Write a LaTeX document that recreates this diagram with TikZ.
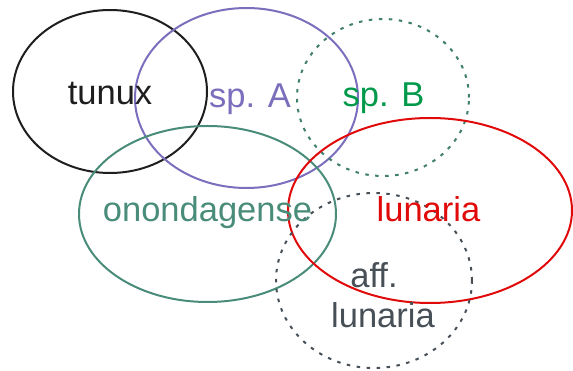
\documentclass[tikz,border=0pt]{standalone}
\usepackage{fontspec}
\setmainfont{Liberation Sans}
\usetikzlibrary{shapes.geometric}
\definecolor{cTunux}{HTML}{1E1E1E}
\definecolor{cSpA}{HTML}{7A6EBD}
\definecolor{cSpBline}{HTML}{3F7F6C}
\definecolor{cSpBtext}{HTML}{00994A}
\definecolor{cOnon}{HTML}{4A8C7A}
\definecolor{cLun}{HTML}{E10A0A}
\definecolor{cAff}{HTML}{474F57}
\tikzset{
  set/.style={ellipse, draw, line width=2pt, inner sep=0pt},
  dotset/.style={set, line width=2pt, dash pattern=on 3.5pt off 6.5pt},
  lbl/.style={font=\fontsize{34.5}{38}\selectfont, inner sep=0pt, anchor=base}
}
\begin{document}
\begin{tikzpicture}[x=1pt, y=-1pt]
\useasboundingbox (0,0) rectangle (573,371);
% species sets
\node[set, cTunux, minimum width=194pt, minimum height=163pt] (tunux) at (110,91.5) {};
\node[set, cSpA, minimum width=223pt, minimum height=180pt] (spA) at (246.5,98) {};
\node[dotset, cSpBline, minimum width=172pt, minimum height=157pt] (spB) at (383,97.5) {};
\node[set, cOnon, minimum width=257pt, minimum height=176pt] (onon) at (207.5,214) {};
\node[set, cLun, minimum width=284pt, minimum height=185pt] (lun) at (430,210.5) {};
\node[dotset, cAff, minimum width=196pt, minimum height=175pt] (aff) at (374,280.5) {};
% labels
\node[lbl, cTunux] (tunuxText) at (110,105) {tunux};
\node[lbl, cSpA] (spAText) at (250,108) {sp. A};
\node[lbl, cSpBtext] (spBText) at (383.5,107) {sp. B};
\node[lbl, cOnon] (ononText) at (207.5,222) {onondagense};
\node[lbl, cLun] (lunText) at (428.5,222) {lunaria};
\node[lbl, cAff] (affText1) at (374,288) {aff.};
\node[lbl, cAff] (affText2) at (383,328) {lunaria};
\end{tikzpicture}
\end{document}
